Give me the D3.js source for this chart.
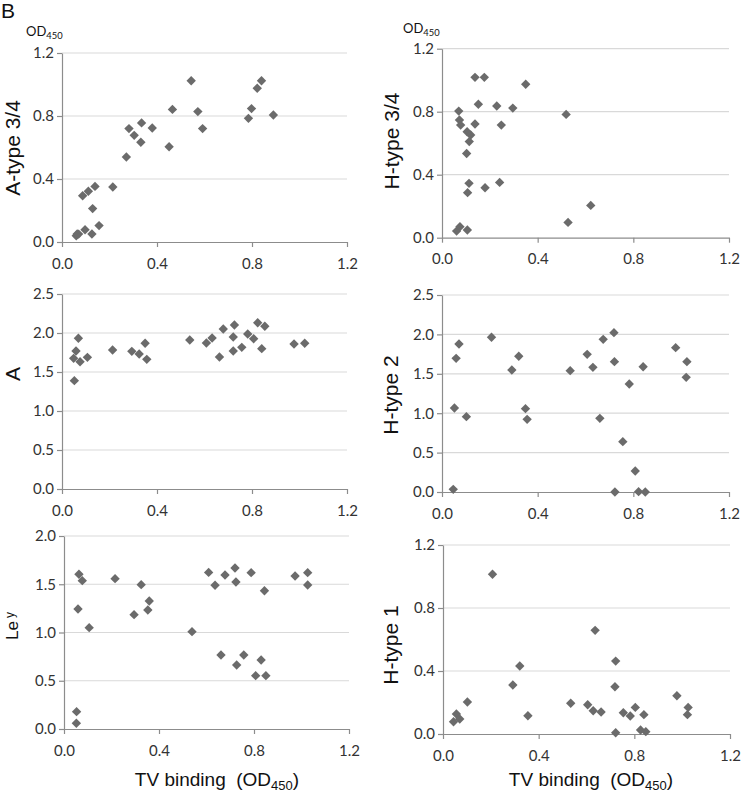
<!DOCTYPE html>
<html><head><meta charset="utf-8">
<script src="https://cdn.jsdelivr.net/npm/d3@7"></script>
<style>body{margin:0;background:#fff}svg{display:block}</style>
</head><body>
<svg id="c" width="742" height="796"></svg>
<script>
// ---- data (x = TV binding OD450, y = antigen OD450) ----
const xTicks = [0, 0.4, 0.8, 1.2];
const yTicks12 = [0, 0.4, 0.8, 1.2];
const yTicks25 = [0, 0.5, 1.0, 1.5, 2.0, 2.5];
const yTicks20 = [0, 0.5, 1.0, 1.5, 2.0];

const aType34X = [0.06,0.07,0.064,0.097,0.126,0.156,0.129,0.087,0.111,0.139,0.214,0.271,0.282,0.304,0.335,0.332,0.380,0.451,0.465,0.544,0.572,0.592,0.785,0.798,0.822,0.840,0.890];
const aType34Y = [0.04,0.05,0.051,0.078,0.051,0.104,0.212,0.294,0.322,0.353,0.349,0.540,0.720,0.677,0.756,0.633,0.724,0.605,0.842,1.024,0.828,0.720,0.785,0.847,0.976,1.024,0.806];

const hType34X = [0.061,0.075,0.106,0.070,0.073,0.078,0.105,0.120,0.114,0.103,0.138,0.138,0.177,0.152,0.113,0.107,0.180,0.241,0.229,0.248,0.296,0.350,0.519,0.527,0.622];
const hType34Y = [0.042,0.070,0.049,0.804,0.747,0.715,0.673,0.652,0.610,0.535,0.722,1.018,1.018,0.847,0.345,0.286,0.317,0.351,0.836,0.715,0.823,0.974,0.783,0.097,0.205];

const aX = [0.052,0.049,0.059,0.069,0.076,0.107,0.213,0.294,0.325,0.350,0.357,0.538,0.608,0.632,0.663,0.679,0.721,0.726,0.721,0.757,0.782,0.807,0.824,0.854,0.841,0.977,1.022];
const aY = [1.389,1.675,1.769,1.932,1.632,1.688,1.782,1.765,1.731,1.868,1.662,1.910,1.872,1.936,1.692,2.051,1.949,2.103,1.769,1.816,1.987,1.927,2.132,2.086,1.799,1.859,1.868];

const hType2X = [0.047,0.052,0.059,0.071,0.102,0.207,0.292,0.321,0.349,0.356,0.536,0.607,0.631,0.660,0.674,0.719,0.721,0.723,0.756,0.783,0.808,0.822,0.850,0.841,0.977,1.024,1.021];
const hType2Y = [0.034,1.066,1.696,1.878,0.956,1.963,1.548,1.722,1.058,0.922,1.540,1.747,1.582,0.935,1.937,2.022,1.654,0.0,0.639,1.371,0.267,0.004,0.0,1.590,1.832,1.654,1.455];

const leyX = [0.052,0.053,0.059,0.063,0.077,0.106,0.215,0.295,0.325,0.353,0.359,0.539,0.609,0.636,0.661,0.678,0.720,0.724,0.727,0.757,0.788,0.807,0.830,0.844,0.850,0.973,1.026,1.026];
const leyY = [0.059,0.180,1.243,1.603,1.537,1.050,1.558,1.185,1.496,1.233,1.326,1.009,1.623,1.489,0.767,1.596,1.668,1.523,0.663,0.767,1.620,0.553,0.715,1.433,0.553,1.585,1.620,1.492];

const hType1X = [0.044,0.056,0.070,0.102,0.207,0.292,0.321,0.355,0.534,0.605,0.628,0.661,0.636,0.722,0.719,0.722,0.754,0.783,0.804,0.840,0.826,0.848,0.978,1.025,1.022];
const hType1Y = [0.078,0.127,0.095,0.203,1.014,0.311,0.432,0.116,0.195,0.186,0.148,0.140,0.658,0.463,0.300,0.008,0.135,0.114,0.169,0.123,0.025,0.015,0.243,0.169,0.123];

const panels = [
  {xs:aType34X, ys:aType34Y, yMax:1.2, yTicks:yTicks12, title:"A-type 3/4", box:[62,347,242,53], tx:20, ty:148},
  {xs:hType34X, ys:hType34Y, yMax:1.2, yTicks:yTicks12, title:"H-type 3/4", box:[442,729,237.7,48.7], tx:399, ty:141},
  {xs:aX, ys:aY, yMax:2.5, yTicks:yTicks25, title:"A", box:[62,347,489,294], tx:20, ty:374},
  {xs:hType2X, ys:hType2Y, yMax:2.5, yTicks:yTicks25, title:"H-type 2", box:[442,729,492,295], tx:398, ty:395},
  {xs:leyX, ys:leyY, yMax:2.0, yTicks:yTicks20, title:"Le", sup:"y", box:[64,349,729,536], tx:18, ty:626},
  {xs:hType1X, ys:hType1Y, yMax:1.2, yTicks:yTicks12, title:"H-type 1", box:[443,730,734,545], tx:398, ty:645}
];

const svg = d3.select("#c");
const tickFont = "Lato, 'Liberation Sans', sans-serif";
const titleFont = "'Liberation Sans', Arial, sans-serif";

panels.forEach(p => {
  const [x0,x1,y0,y1] = p.box;
  const x = d3.scaleLinear().domain([0,1.2]).range([x0,x1]);
  const y = d3.scaleLinear().domain([0,p.yMax]).range([y0,y1]);
  const g = svg.append("g");

  g.selectAll("line.grid").data(p.yTicks.filter(t=>t>0)).join("line")
    .attr("x1",x0).attr("x2",x1)
    .attr("y1",d=>y(d)).attr("y2",d=>y(d))
    .attr("stroke","#d9d9d9").attr("stroke-width",1.2);

  const ya = g.append("g").attr("transform",`translate(${x0},0)`)
    .call(d3.axisLeft(y).tickValues(p.yTicks).tickFormat(d3.format(".1f")).tickSize(5).tickSizeOuter(0).tickPadding(3));
  const xa = g.append("g").attr("transform",`translate(0,${y0})`)
    .call(d3.axisBottom(x).tickValues(xTicks).tickFormat(d3.format(".1f")).tickSize(5).tickSizeOuter(0).tickPadding(11));
  [ya,xa].forEach(a=>{
    a.select(".domain").attr("stroke","#8c8c8c").attr("stroke-width",1.2);
    a.selectAll(".tick line").attr("stroke","#8c8c8c").attr("stroke-width",1.2);
    a.selectAll(".tick text").attr("fill","#333").style("font-family",tickFont).style("font-size","15px");
  });

  const sym = d3.symbol().type(d3.symbolSquare).size(44);
  g.selectAll("path.pt").data(p.xs.map((v,i)=>[v,p.ys[i]])).join("path")
    .attr("d",sym)
    .attr("transform",d=>`translate(${x(d[0])},${y(d[1])}) rotate(45)`)
    .attr("fill","#6b6b6b");

  const t = svg.append("text")
    .attr("transform",`translate(${p.tx},${p.ty}) rotate(-90)`)
    .attr("text-anchor","middle")
    .style("font-family",titleFont).style("font-size", p.sup ? "17px" : "21px").attr("fill","#111")
    .text(p.title);
  if (p.sup) {
    t.append("tspan").attr("dx",3).attr("dy",-4).style("font-size","12px").text(p.sup);
  }
});

svg.append("text").attr("x",1).attr("y",18)
  .style("font-family",titleFont).style("font-size","21px").attr("fill","#111").text("B");

function od(xp, yp, size) {
  const t = svg.append("text").attr("x",xp).attr("y",yp)
    .style("font-family",tickFont).style("font-size",size+"px").attr("fill","#111");
  t.append("tspan").text("OD");
  t.append("tspan").attr("dy",3).style("font-size",(size*0.72)+"px").text("450");
}
od(26, 36, 13);
od(403, 33, 13);

function xTitle(cx, yp) {
  const t = svg.append("text").attr("x",cx).attr("y",yp).attr("text-anchor","middle")
    .style("font-family",titleFont).style("font-size","19px").attr("fill","#111");
  t.append("tspan").text("TV binding\u00a0\u00a0(OD");
  t.append("tspan").attr("dy",4).style("font-size","13px").text("450");
  t.append("tspan").attr("dy",-4).text(")");
}
xTitle(217, 786);
xTitle(591, 786);
</script>
</body></html>
